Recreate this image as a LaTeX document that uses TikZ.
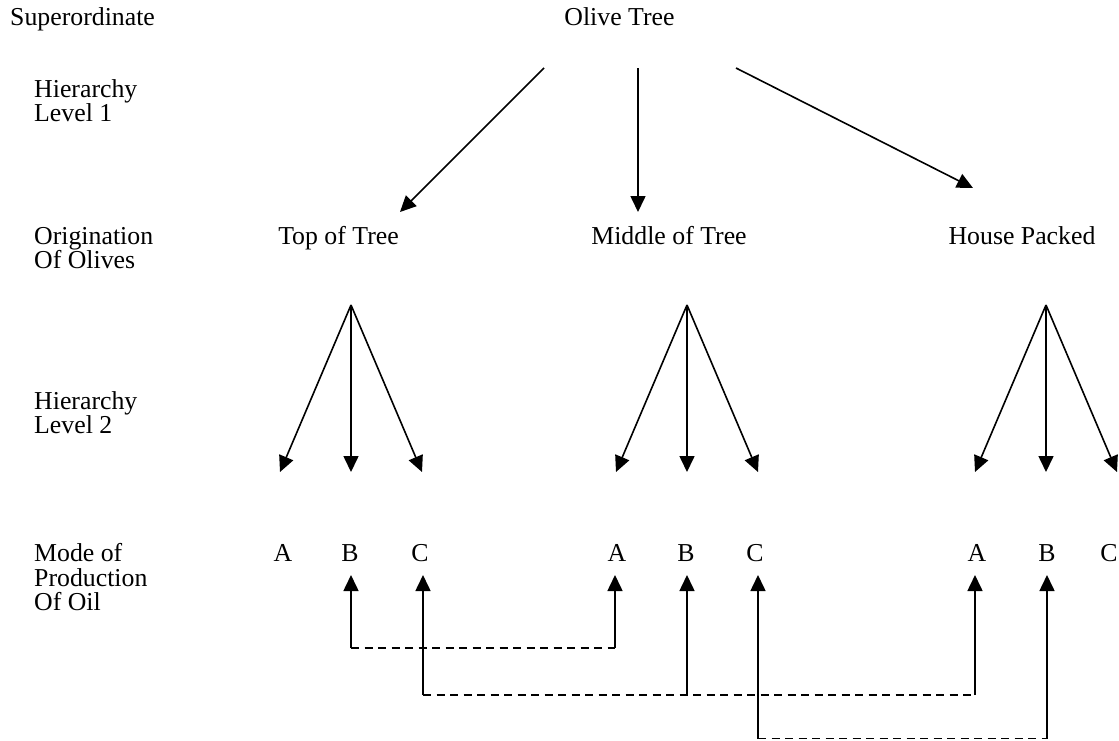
\documentclass[tikz,border=0pt]{standalone}
\usepackage{fontspec}
\setmainfont{Liberation Serif}
\usetikzlibrary{arrows.meta}
\begin{document}
\begin{tikzpicture}[x=1pt,y=-1pt,
  lbl/.style={font=\fontsize{25.8}{30}\selectfont, inner sep=0pt, anchor=base},
  side/.style={lbl, anchor=base west, align=left},
  arr/.style={line width=1.6pt, -{Triangle[length=16pt,width=15pt]}},
  link/.style={line width=1.6pt, dash pattern=on 8pt off 5.5pt}]
\useasboundingbox (0,0) rectangle (1119,740);
% left labels
\node[side] (sup) at (10,25) {Superordinate};
\node[side] (h1a) at (34,97) {Hierarchy};
\node[side] (h1b) at (34,121) {Level 1};
\node[side] (oa) at (34,244) {Origination};
\node[side] (ob) at (34,268) {Of Olives};
\node[side] (h2a) at (34,409) {Hierarchy};
\node[side] (h2b) at (34,433) {Level 2};
\node[side] (ma) at (34,561) {Mode of};
\node[side] (mb) at (34,586) {Production};
\node[side] (mc) at (34,610) {Of Oil};
% tree
\node[lbl] (olive) at (619.5,25) {Olive Tree};
\node[lbl] (top) at (338.5,244) {Top of Tree};
\node[lbl] (mid) at (669,244) {Middle of Tree};
\node[lbl] (house) at (1022,244) {House Packed};
\coordinate (o1) at (544,68);
\coordinate (o2) at (638,68);
\coordinate (o3) at (736,68);
\coordinate (t1) at (400,212);
\coordinate (t2) at (638,212);
\coordinate (t3) at (973,188);
\draw[arr] (o1) -- (t1);
\draw[arr] (o2) -- (t2);
\draw[arr] (o3) -- (t3);
% apexes
\coordinate (ap1) at (351,305);
\coordinate (ap2) at (687,305);
\coordinate (ap3) at (1046,305);
% letters
\node[lbl] (A1) at (283,561) {A};
\node[lbl] (B1) at (350,561) {B};
\node[lbl] (C1) at (420,561) {C};
\node[lbl] (A2) at (617,561) {A};
\node[lbl] (B2) at (686,561) {B};
\node[lbl] (C2) at (755,561) {C};
\node[lbl] (A3) at (977,561) {A};
\node[lbl] (B3) at (1047,561) {B};
\node[lbl] (C3) at (1109,561) {C};
\foreach \g/\x in {1/351,2/687,3/1046}{
  \coordinate (ta\g) at (\x-71,472);
  \coordinate (tb\g) at (\x,472);
  \coordinate (tc\g) at (\x+71,472);
  \draw[arr] (ap\g) -- (ta\g);
  \draw[arr] (ap\g) -- (tb\g);
  \draw[arr] (ap\g) -- (tc\g);
}
% bottom links
\coordinate (u1) at (351,575);
\coordinate (u2) at (423,575);
\coordinate (u3) at (615,575);
\coordinate (u4) at (687,575);
\coordinate (u5) at (758,575);
\coordinate (u6) at (975,575);
\coordinate (u7) at (1047,575);
\coordinate (d1) at (351,648);
\coordinate (d3) at (615,648);
\coordinate (d2) at (423,695);
\coordinate (d4) at (687,695);
\coordinate (d6) at (975,695);
\coordinate (d5) at (758,738.5);
\coordinate (d7) at (1047,738.5);
\foreach \i in {1,...,7}{\draw[arr] (d\i) -- (u\i);}
\draw[link] (d1) -- (d3);
\draw[link] (d2) -- (d6);
\draw[link] (d5) -- (d7);
\end{tikzpicture}
\end{document}
